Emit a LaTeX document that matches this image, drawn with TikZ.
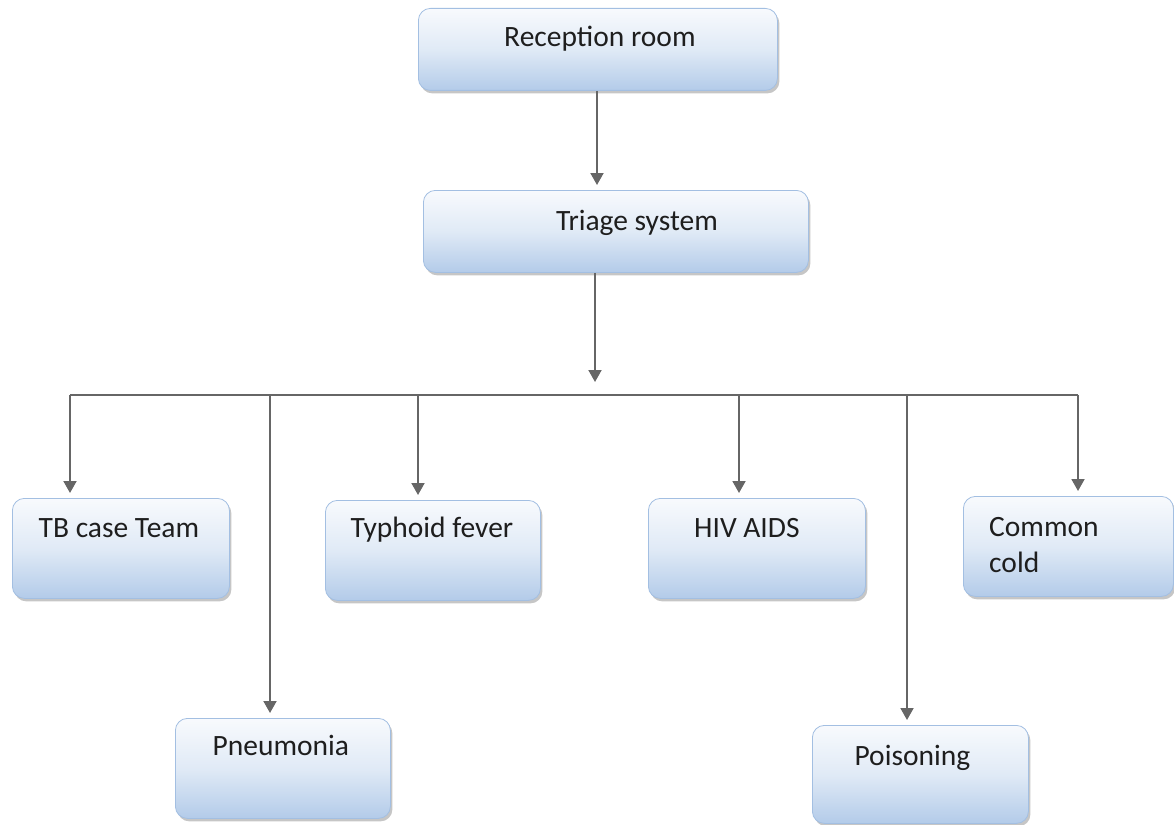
\documentclass[tikz,border=0pt]{standalone}
\usepackage{fontspec}
\setmainfont{Carlito}
\usetikzlibrary{arrows.meta,shadows}
\definecolor{boxtop}{HTML}{F8FAFD}
\definecolor{boxmid}{HTML}{E0EAF6}
\definecolor{boxbot}{HTML}{B3CBE9}
\definecolor{boxline}{HTML}{A3BFE2}
\definecolor{wire}{HTML}{666666}
\definecolor{ink}{HTML}{1E1E1E}
\tikzset{
  box/.style={draw=boxline, line width=0.8pt, rounded corners=12pt,
    top color=boxtop, bottom color=boxbot, middle color=boxmid,
    anchor=north west, inner sep=0pt,
    drop shadow={shadow xshift=2pt, shadow yshift=-3pt, fill=black!50, opacity=0.45}},
  lbl/.style={inner sep=0pt, anchor=base, text=ink, font=\fontsize{29.5}{36}\selectfont},
  wireline/.style={draw=wire, line width=1.9pt},
  conn/.style={wireline, -{Triangle[width=13pt,length=12pt]}, shorten >=5pt},
}
\begin{document}
\begin{tikzpicture}[x=1pt, y=-1pt]
\useasboundingbox (0,0) rectangle (1174,824);

% boxes
\node[box, minimum width=359pt, minimum height=82pt] (rec) at (418,8) {};
\node[box, minimum width=385pt, minimum height=82pt] (tri) at (423,190) {};
\node[box, minimum width=217pt, minimum height=100pt] (tb) at (12,498) {};
\node[box, minimum width=215pt, minimum height=100pt] (typ) at (325,500) {};
\node[box, minimum width=217pt, minimum height=100pt] (hiv) at (648,498) {};
\node[box, minimum width=210pt, minimum height=100pt] (cc) at (963,496) {};
\node[box, minimum width=215pt, minimum height=100pt] (pn) at (175,718) {};
\node[box, minimum width=216pt, minimum height=98pt] (po) at (812,725) {};

% labels
\node[lbl] at ([xshift=2pt, yshift=-39pt]rec.north) {Reception room};
\node[lbl] at ([xshift=21pt, yshift=-40pt]tri.north) {Triage system};
\node[lbl] at ([xshift=-2pt, yshift=-39pt]tb.north) {TB case Team};
\node[lbl] at ([xshift=-1pt, yshift=-37pt]typ.north) {Typhoid fever};
\node[lbl] at ([xshift=-10pt, yshift=-39pt]hiv.north) {HIV AIDS};
\node[lbl, anchor=base west, align=left] at ([xshift=26pt, yshift=-76pt]cc.north west) {Common\\cold};
\node[lbl] at ([xshift=-2pt, yshift=-37pt]pn.north) {Pneumonia};
\node[lbl] at ([xshift=-8pt, yshift=-40pt]po.north) {Poisoning};

% distribution bar
\coordinate (hub) at (595,395);
\coordinate (j1) at (70,395);
\coordinate (j2) at (270,395);
\coordinate (j3) at (418,395);
\coordinate (j4) at (739,395);
\coordinate (j5) at (907,395);
\coordinate (j6) at (1078,395);

% connectors
\draw[conn] (rec.south -| 597,0) -- (597,0 |- tri.north);
\draw[conn, shorten >=13pt] (hub |- tri.south) -- (hub);
\draw[wireline] (j1) -- (j6);
\draw[conn] (j1) -- (j1 |- tb.north);
\draw[conn] (j2) -- (j2 |- pn.north);
\draw[conn] (j3) -- (j3 |- typ.north);
\draw[conn] (j4) -- (j4 |- hiv.north);
\draw[conn] (j5) -- (j5 |- po.north);
\draw[conn] (j6) -- (j6 |- cc.north);
\end{tikzpicture}
\end{document}
